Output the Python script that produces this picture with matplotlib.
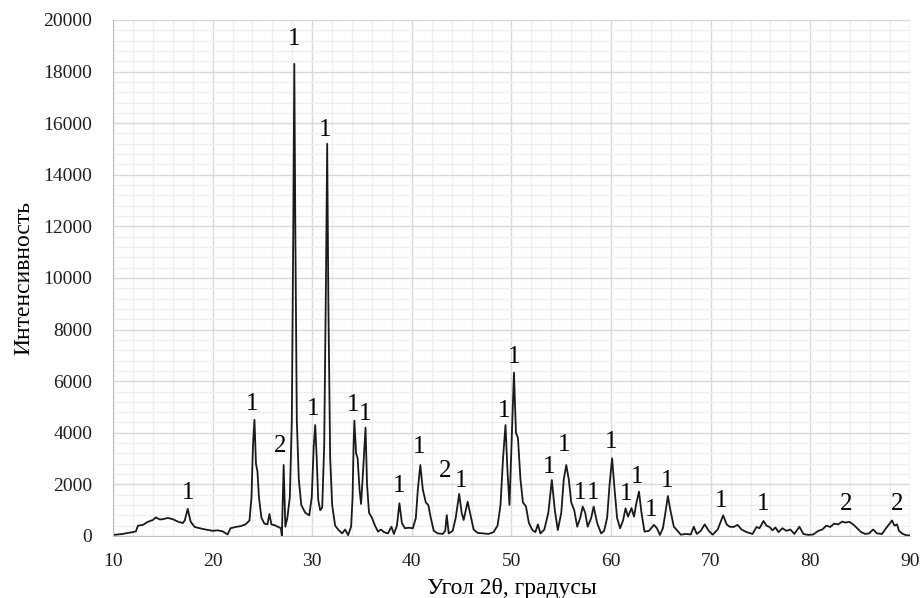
import matplotlib
matplotlib.use("Agg")
import matplotlib.pyplot as plt
from matplotlib.ticker import MultipleLocator

# diffraction pattern
two_theta = [
    10.0, 10.5, 11.0, 11.5, 12.0, 12.3, 12.5, 13.0, 13.5, 14.0, 14.3, 14.7, 15.0, 15.5,
    16.0, 16.5, 17.0, 17.2, 17.5, 17.8, 18.2, 18.7, 19.3, 20.0, 20.5, 21.0, 21.5, 21.8,
    22.3, 22.8, 23.3, 23.7, 23.9, 24.05, 24.2, 24.35, 24.5, 24.65, 24.9, 25.2, 25.5, 25.7,
    25.9, 26.2, 26.6, 26.85, 26.95, 27.13, 27.3, 27.5, 27.75, 27.95, 28.1, 28.2, 28.3,
    28.45, 28.65, 28.9, 29.3, 29.7, 29.95, 30.15, 30.3, 30.45, 30.6, 30.8, 31.0, 31.2,
    31.38, 31.5, 31.62, 31.8, 32.0, 32.3, 32.6, 33.0, 33.3, 33.6, 33.9, 34.05, 34.15,
    34.23, 34.4, 34.55, 34.75, 34.9, 35.1, 35.35, 35.5, 35.7, 36.0, 36.3, 36.6, 36.9,
    37.2, 37.6, 37.95, 38.2, 38.5, 38.75, 39.0, 39.3, 39.7, 40.1, 40.4, 40.6, 40.85,
    41.1, 41.4, 41.65, 41.9, 42.2, 42.6, 43.1, 43.35, 43.5, 43.7, 44.1, 44.4, 44.75,
    45.0, 45.2, 45.6, 45.9, 46.2, 46.6, 47.2, 47.7, 48.2, 48.6, 48.9, 49.15, 49.4, 49.6,
    49.8, 50.0, 50.25, 50.45, 50.65, 50.9, 51.15, 51.45, 51.75, 52.1, 52.4, 52.65, 52.9,
    53.3, 53.7, 54.05, 54.35, 54.65, 55.0, 55.25, 55.5, 55.75, 56.0, 56.3, 56.6, 56.9,
    57.15, 57.4, 57.65, 58.0, 58.25, 58.6, 59.0, 59.3, 59.6, 59.85, 60.1, 60.35, 60.6,
    60.9, 61.2, 61.45, 61.7, 62.05, 62.3, 62.55, 62.8, 63.05, 63.35, 63.8, 64.3, 64.6,
    64.9, 65.2, 65.45, 65.7, 65.95, 66.3, 66.6, 67.0, 67.5, 68.0, 68.3, 68.6, 69.0,
    69.4, 69.8, 70.2, 70.7, 71.25, 71.6, 71.9, 72.3, 72.7, 73.1, 73.6, 74.2, 74.6,
    74.9, 75.3, 75.6, 75.9, 76.2, 76.5, 76.8, 77.2, 77.6, 78.0, 78.4, 78.9, 79.3,
    79.8, 80.3, 80.8, 81.2, 81.6, 82.0, 82.4, 82.8, 83.2, 83.5, 83.9, 84.3, 84.7,
    85.1, 85.5, 85.9, 86.3, 86.7, 87.2, 87.6, 87.9, 88.2, 88.45, 88.7, 88.9, 89.2,
    89.6, 90.0,
]
intensity = [
    40, 60, 80, 120, 150, 180, 400, 430, 550, 620, 720, 640, 650, 700,
    650, 560, 500, 600, 1050, 550, 350, 300, 250, 200, 220, 180, 60, 300,
    350, 380, 450, 600, 1500, 3500, 4500, 2800, 2500, 1500, 700, 480, 450, 850,
    450, 420, 350, 300, 0, 2750, 360, 700, 1500, 4500, 12000, 18300, 12000,
    4500, 2200, 1200, 900, 800, 1500, 3500, 4300, 3000, 1400, 1000, 1100, 3500,
    10000, 15200, 9000, 3000, 1200, 400, 250, 100, 250, 30, 360, 1500, 3500,
    4470, 3200, 3030, 1800, 1240, 2500, 4200, 2000, 900, 700, 400, 170, 250,
    150, 100, 360, 80, 400, 1270, 500, 300, 320, 300, 700, 1800, 2750,
    1800, 1300, 1200, 700, 200, 100, 80, 200, 810, 100, 200, 700, 1630,
    900, 620, 1330, 800, 250, 120, 100, 80, 150, 400, 1200, 3000, 4300, 2500,
    1200, 3500, 6330, 4000, 3800, 2200, 1300, 1150, 500, 230, 150, 450, 100,
    250, 900, 2170, 1000, 230, 900, 2200, 2750, 2200, 1300, 1000, 360, 700,
    1140, 900, 360, 700, 1140, 500, 100, 200, 700, 2000, 3010, 1800, 700,
    300, 600, 1070, 750, 1080, 750, 1300, 1720, 900, 170, 200, 430, 300,
    40, 300, 900, 1550, 1000, 360, 230, 50, 80, 60, 360, 80, 200,
    450, 200, 50, 250, 800, 450, 360, 350, 430, 250, 150, 80, 350,
    300, 580, 400, 350, 220, 330, 150, 300, 200, 250, 80, 360, 80,
    40, 60, 200, 250, 400, 350, 480, 450, 560, 520, 550, 450, 300,
    150, 80, 100, 250, 100, 80, 300, 450, 600, 400, 450, 200, 100,
    30, 20,
]

# phase marks above the peaks
label_x = [17.5, 24.0, 26.8, 28.2, 30.1, 31.3, 34.1, 35.3, 38.7, 40.7, 43.3, 44.9, 49.3,
           50.3, 53.8, 55.3, 56.9, 58.2, 60.0, 61.5, 62.6, 64.0, 65.6, 71.0, 75.3, 83.6, 88.7]
label_y = [1670, 5120, 3490, 19260, 4920, 15740, 5080, 4730, 1940, 3450, 2520, 2130, 4840,
           6940, 2670, 3530, 1670, 1670, 3640, 1630, 2290, 1010, 2130, 1360, 1240, 1240, 1240]
label_text = ["1", "1", "2", "1", "1", "1", "1", "1", "1", "1", "2", "1", "1",
              "1", "1", "1", "1", "1", "1", "1", "1", "1", "1", "1", "1", "2", "2"]

plt.rcParams["font.family"] = ["Liberation Serif", "DejaVu Serif"]

fig = plt.figure(figsize=(9.21, 5.98), dpi=100)
ax = fig.add_axes([0.1227, 0.1037, 0.8653, 0.8629])

ax.plot(two_theta, intensity, color="#1a1a1a", lw=1.3)

for lx, ly, t in zip(label_x, label_y, label_text):
    ax.text(lx, ly, t, fontsize=18, ha="center", va="center", color="black")

ax.set_xlim(10, 90)
ax.set_ylim(0, 20000)
ax.xaxis.set_major_locator(MultipleLocator(10))
ax.xaxis.set_minor_locator(MultipleLocator(2))
ax.yaxis.set_major_locator(MultipleLocator(2000))
ax.yaxis.set_minor_locator(MultipleLocator(400))
ax.grid(which="major", color="#d9d9d9", lw=1.0)
ax.grid(which="minor", color="#efefef", lw=1.0)
ax.set_axisbelow(True)
ax.tick_params(which="both", length=0)
ax.tick_params(axis="x", labelsize=14, pad=12, colors="#1f1f1f")
ax.tick_params(axis="y", labelsize=14, pad=15, colors="#1f1f1f")
for s in ["top", "right"]:
    ax.spines[s].set_visible(False)
ax.spines["left"].set_color("#bfbfbf")
ax.spines["bottom"].set_color("#bfbfbf")

ax.set_xlabel("Угол 2θ, градусы", fontsize=17, labelpad=6)
ax.set_ylabel("Интенсивность", fontsize=17, labelpad=6)

fig.savefig("out.png", dpi=100)
